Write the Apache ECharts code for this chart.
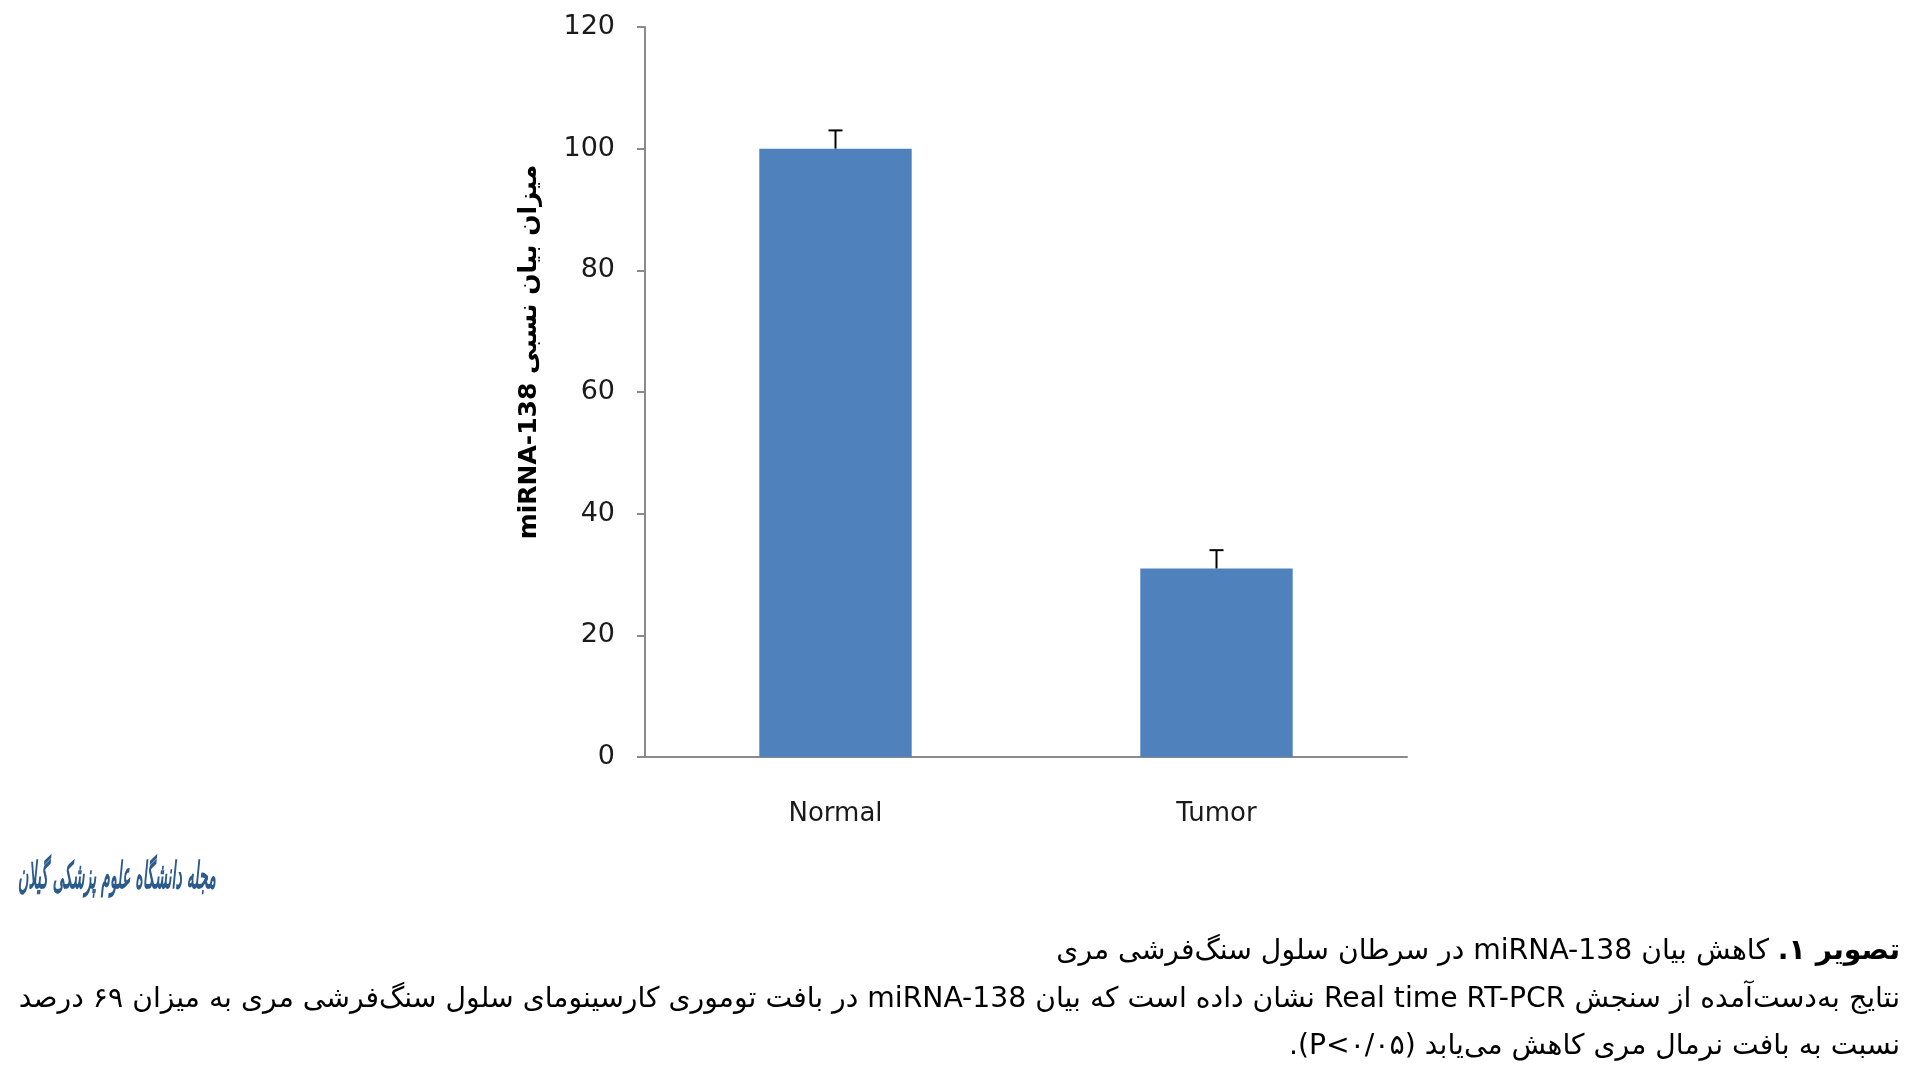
<!DOCTYPE html>
<html><head><meta charset="utf-8">
<script src="https://cdn.jsdelivr.net/npm/echarts@6/dist/echarts.min.js"></script>
<style>html,body{margin:0;padding:0;background:#fff}#main{width:1913px;height:1079px}</style>
</head><body><div id="main" dir="rtl"></div>
<script>
const categories = ['Normal', 'Tumor'];
const values = [100, 31];
const errors = [3, 3];
const yMin = 0, yMax = 120, yInterval = 20;
const yTitle = 'میزان بیان نسبی miRNA-138';
const captionTitleBold = 'تصویر ۱.';
const captionTitleRest = 'کاهش بیان miRNA-138 در سرطان سلول سنگ‌فرشی مری';
const captionLine2 = 'نتایج به‌دست‌آمده از سنجش Real time RT-PCR نشان داده است که بیان miRNA-138 در بافت توموری کارسینومای سلول سنگ‌فرشی مری به میزان ۶۹ درصد';
const captionLine3 = 'نسبت به بافت نرمال مری کاهش می‌یابد (P<۰/۰۵).';
const logoText = 'مجله دانشگاه علوم پزشکی گیلان';

const FONT = "'DejaVu Sans'";
const mc = document.createElement('canvas').getContext('2d');
function measure(txt, font) { mc.font = font; return mc.measureText(txt).width; }

// caption font size fitted to full width of line 2
const w30 = measure(captionLine2, '30px ' + FONT);
const capFs = Math.min(30, 30 * 1882 / w30);
const capFont = capFs + 'px ' + FONT;
const capBold = 'bold ' + capFs + 'px ' + FONT;
const boldW = measure(captionTitleBold, capBold);
const spaceW = measure(' ', capFont);

const logoW = measure(logoText, 'bold italic 20px ' + FONT);
const logoFs = 20 * 198 / logoW;

const chart = echarts.init(document.getElementById('main'), null, {renderer: 'canvas'});
chart.setOption({
  animation: false,
  backgroundColor: '#fff',
  grid: {left: 645, right: 506, top: 27, bottom: 322, containLabel: false},
  xAxis: {
    type: 'category',
    data: categories,
    axisLine: {lineStyle: {color: '#8a8a8a', width: 2}},
    axisTick: {length: 11, lineStyle: {color: '#8a8a8a', width: 2}},
    axisLabel: {color: '#1a1a1a', fontFamily: FONT, fontSize: 26, margin: 44}
  },
  yAxis: {
    type: 'value',
    min: yMin, max: yMax, interval: yInterval,
    splitLine: {show: false},
    axisLine: {show: true, lineStyle: {color: '#8a8a8a', width: 2}},
    axisTick: {show: true, length: 8, lineStyle: {color: '#8a8a8a', width: 2}},
    axisLabel: {color: '#1a1a1a', fontFamily: FONT, fontSize: 27, margin: 30}
  },
  series: [
    {
      type: 'bar',
      data: values,
      barWidth: '40%',
      itemStyle: {color: '#4F81BD'}
    },
    {
      type: 'custom',
      data: values.map((v, i) => [i, v, v + errors[i]]),
      encode: {x: 0, y: [1, 2]},
      z: 10,
      renderItem: function (params, api) {
        const x = api.value(0);
        const lo = api.coord([x, api.value(1)]);
        const hi = api.coord([x, api.value(2)]);
        const half = 7;
        return {type: 'group', children: [
          {type: 'line', shape: {x1: lo[0], y1: lo[1], x2: hi[0], y2: hi[1]}, style: {stroke: '#000', lineWidth: 2}},
          {type: 'line', shape: {x1: hi[0] - half, y1: hi[1], x2: hi[0] + half, y2: hi[1]}, style: {stroke: '#000', lineWidth: 2}}
        ]};
      }
    }
  ],
  graphic: [
    {type: 'text', x: 529, y: 352, rotation: Math.PI / 2,
      style: {text: yTitle, font: 'bold 25px ' + FONT, fill: '#000', textAlign: 'center', textVerticalAlign: 'middle', align: 'center', verticalAlign: 'middle'}},
    {type: 'text', x: 18, y: 878, scaleY: 2.6,
      style: {text: logoText, font: 'bold italic ' + logoFs + 'px ' + FONT, fill: '#2b5a8c', textAlign: 'left', textVerticalAlign: 'middle', align: 'left', verticalAlign: 'middle'}},
    {type: 'text', x: 1900, y: 952,
      style: {text: captionTitleBold, font: capBold, fill: '#000', textAlign: 'right', textVerticalAlign: 'middle', align: 'right', verticalAlign: 'middle'}},
    {type: 'text', x: 1900 - boldW - spaceW, y: 952,
      style: {text: captionTitleRest, font: capFont, fill: '#000', textAlign: 'right', textVerticalAlign: 'middle', align: 'right', verticalAlign: 'middle'}},
    {type: 'text', x: 1900, y: 1000,
      style: {text: captionLine2, font: capFont, fill: '#000', textAlign: 'right', textVerticalAlign: 'middle', align: 'right', verticalAlign: 'middle'}},
    {type: 'text', x: 1900, y: 1047,
      style: {text: captionLine3, font: capFont, fill: '#000', textAlign: 'right', textVerticalAlign: 'middle', align: 'right', verticalAlign: 'middle'}}
  ]
});
</script></body></html>
